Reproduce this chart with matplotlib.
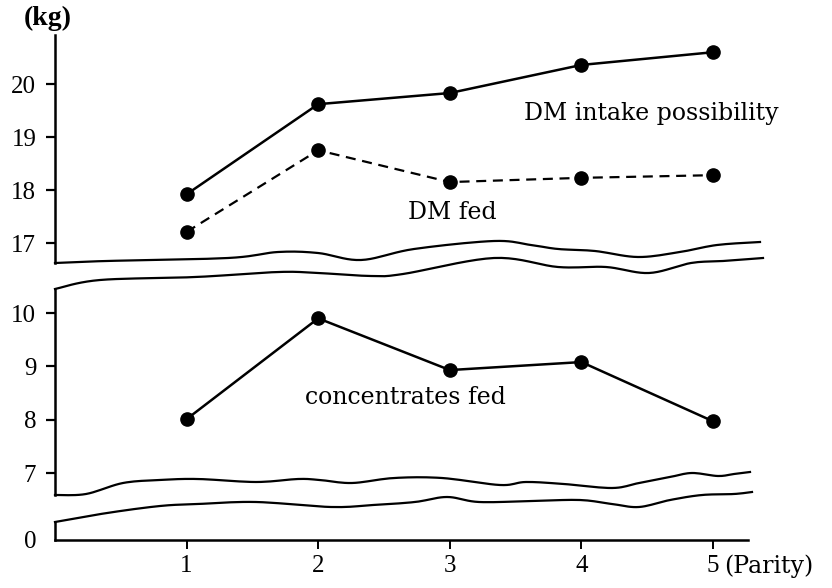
import numpy as np
import matplotlib
matplotlib.use("Agg")
import matplotlib.pyplot as plt
import matplotlib.transforms as mtransforms

plt.rcParams['font.family'] = ['Liberation Serif', 'DejaVu Serif']

parity = [1, 2, 3, 4, 5]
dm_intake = [17.92, 19.62, 19.83, 20.36, 20.60]
dm_fed = [17.21, 18.75, 18.15, 18.23, 18.28]
concentrates = [8.01, 9.90, 8.93, 9.08, 7.97]

W, H = 832, 588
fig = plt.figure(figsize=(W / 100, H / 100), dpi=100)
pix = mtransforms.Affine2D().scale(1 / W, -1 / H).translate(0, 1) + fig.transFigure

left, width = 55 / W, 705 / W
ax_top = fig.add_axes([left, 1 - 263 / H, width, 228 / H])
ax_mid = fig.add_axes([left, 1 - 495 / H, width, 206 / H])
ax_bot = fig.add_axes([left, 1 - 540 / H, width, 18 / H])

xmax = 5.357
for ax in (ax_top, ax_mid, ax_bot):
    ax.set_xlim(0, xmax)
    for s in ('top', 'right'):
        ax.spines[s].set_visible(False)
    ax.spines['left'].set_linewidth(1.8)
    ax.patch.set_alpha(0)
    ax.tick_params(axis='y', direction='out', length=6.5, width=1.6, pad=7, labelsize=18)

for ax in (ax_top, ax_mid):
    ax.spines['bottom'].set_visible(False)
    ax.set_xticks([])

ax_top.set_ylim(16.623, 20.925)
ax_top.set_yticks([17, 18, 19, 20])
ax_mid.set_ylim(6.5875, 10.45)
ax_mid.set_yticks([7, 8, 9, 10])
ax_bot.set_ylim(0, 0.3375)
ax_bot.set_yticks([0])
ax_bot.tick_params(axis='y', length=0, pad=13)
ax_bot.spines['bottom'].set_linewidth(1.8)
ax_bot.spines['bottom'].set_bounds(0, 5.266)
ax_bot.set_xticks(parity)
ax_bot.tick_params(axis='x', direction='out', length=6.5, width=1.4, pad=4, labelsize=18)

ax_top.plot(parity, dm_intake, color='black', lw=1.8, marker='o', ms=9.5, clip_on=False)
ax_top.plot(parity, dm_fed, color='black', lw=1.6, ls=(0, (4.5, 3)), marker='o', ms=9.5,
            clip_on=False)
ax_mid.plot(parity, concentrates, color='black', lw=1.8, marker='o', ms=9.5, clip_on=False)

ax_top.text(4.53, 19.45, 'DM intake possibility', family=['DejaVu Serif'], fontsize=17,
            ha='center', va='center')
ax_top.text(3.02, 17.58, 'DM fed', family=['DejaVu Serif'], fontsize=17,
            ha='center', va='center')
ax_mid.text(2.66, 8.41, 'concentrates fed', family=['DejaVu Serif'], fontsize=17,
            ha='center', va='center')

fig.text(48, 18, '(kg)', transform=pix, fontsize=20, fontweight='bold', ha='center', va='center')
fig.text(724, 566, '(Parity)', transform=pix, family=['DejaVu Serif'], fontsize=17,
         ha='left', va='center')

# wavy break marks (pixel positions)
wave_a = [(55, 263), (106, 261), (228, 258), (278, 252), (318, 253), (361, 260), (414, 249),
          (494, 241), (531, 245), (558, 249), (595, 251), (638, 257), (680, 252), (717, 245),
          (760, 242)]
wave_b = [(55, 289), (100, 280), (196, 277), (278, 272), (318, 273), (371, 276), (403, 274),
          (494, 258), (558, 267), (606, 267), (649, 273), (691, 263), (723, 261), (763, 258)]
wave_c = [(55, 495), (86, 494), (123, 483), (160, 480), (198, 479), (256, 482), (298, 479),
          (320, 480), (352, 483), (394, 478), (442, 478), (500, 485), (526, 482), (564, 484),
          (612, 488), (639, 483), (670, 477), (692, 473), (718, 476), (734, 474), (750, 472)]
wave_d = [(55, 522), (107, 513), (160, 506), (198, 504), (256, 502), (331, 507), (373, 505),
          (415, 502), (447, 497), (479, 502), (532, 501), (580, 500), (612, 504), (639, 507),
          (670, 500), (702, 495), (734, 494), (752, 492)]


def smooth(pts, n=10):
    p = np.array(pts, float)
    p = np.vstack([p[0], p, p[-1]])
    out = []
    t = np.linspace(0, 1, n, endpoint=False)[:, None]
    for i in range(1, len(p) - 2):
        p0, p1, p2, p3 = p[i - 1], p[i], p[i + 1], p[i + 2]
        out.append(0.5 * (2 * p1 + (-p0 + p2) * t + (2 * p0 - 5 * p1 + 4 * p2 - p3) * t ** 2
                          + (-p0 + 3 * p1 - 3 * p2 + p3) * t ** 3))
    out.append(p[-2][None])
    return np.vstack(out)


for w in (wave_a, wave_b, wave_c, wave_d):
    s = smooth(w)
    fig.add_artist(plt.Line2D(s[:, 0], s[:, 1], transform=pix, color='black', lw=1.6))

fig.savefig('out.png', dpi=100)
